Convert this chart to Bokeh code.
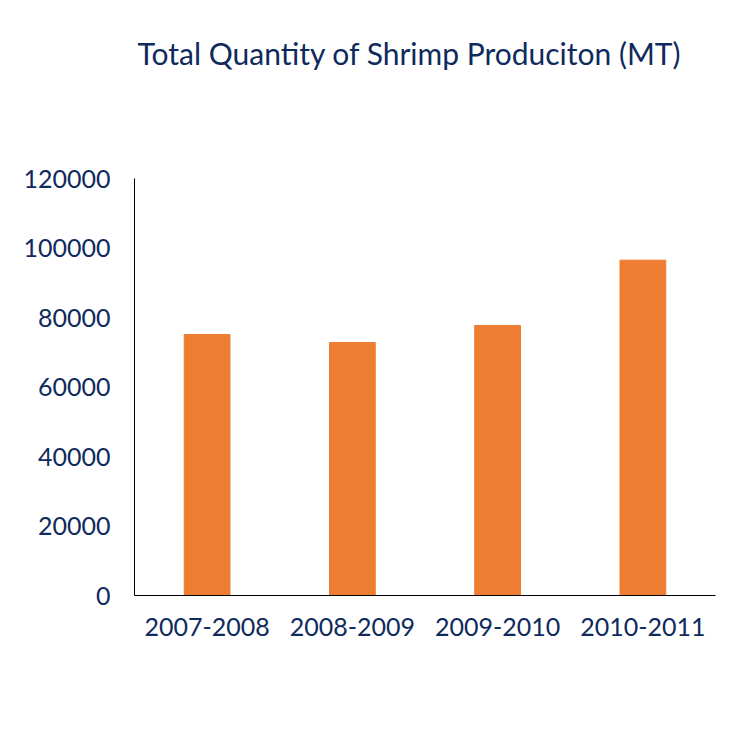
from bokeh.plotting import figure
from bokeh.models import FactorRange, Range1d, FixedTicker, NumeralTickFormatter, Title
from bokeh.embed import file_html
from bokeh.resources import INLINE

seasons = ["2007-2008", "2008-2009", "2009-2010", "2010-2011"]
production = [75100, 72800, 77700, 96500]
y_ticks = [0, 20000, 40000, 60000, 80000, 100000, 120000]

navy = "#0f2a5c"
orange = "#ED7D31"

p = figure(x_range=FactorRange(*seasons, range_padding=0),
           y_range=Range1d(0, 120000),
           width=734, height=734, output_backend="svg", toolbar_location=None,
           min_border_left=134, min_border_right=19, min_border_top=178, min_border_bottom=139)

spacer = Title(text=" ", text_font_size="10px", standoff=95)
p.add_layout(spacer, "above")
title = Title(text="Total Quantity of Shrimp Produciton (MT)", text_font="Lato",
              text_font_size="30px", text_font_style="normal", text_color=navy,
              align="left", offset=3, standoff=0)
p.add_layout(title, "above")

p.vbar(x=seasons, top=production, width=0.315, color=orange)

p.xgrid.visible = False
p.ygrid.visible = False
p.outline_line_color = None
p.background_fill_color = "white"
p.border_fill_color = "white"

p.yaxis.ticker = FixedTicker(ticks=y_ticks)
p.yaxis.formatter = NumeralTickFormatter(format="0")
for ax in (p.xaxis, p.yaxis):
    ax.major_tick_line_color = None
    ax.minor_tick_line_color = None
    ax.major_tick_out = 0
    ax.major_tick_in = 0
    ax.axis_line_color = "black"
    ax.axis_line_width = 1
    ax.major_label_text_font = "Lato"
    ax.major_label_text_font_size = "25px"
    ax.major_label_text_color = navy
p.yaxis.major_label_standoff = 24
p.xaxis.major_label_standoff = 22

open("out.html", "w").write(file_html(p, INLINE))
